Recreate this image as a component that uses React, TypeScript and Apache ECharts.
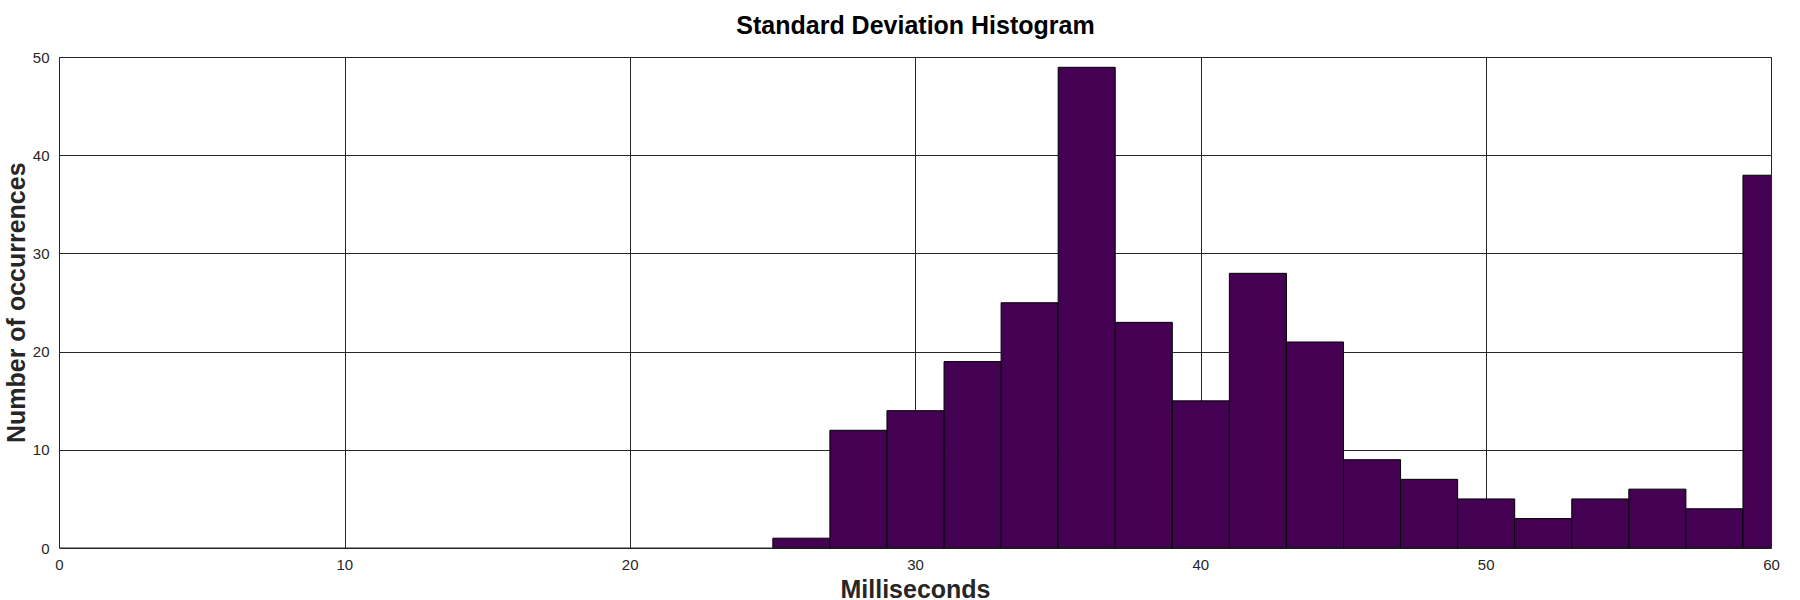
import React, { useEffect, useRef } from "react";
import * as echarts from "echarts";

const TITLE = "Standard Deviation Histogram";
const X_NAME = "Milliseconds";
const Y_NAME = "Number of occurrences";
const BIN_STARTS = [25, 27, 29, 31, 33, 35, 37, 39, 41, 43, 45, 47, 49, 51, 53, 55, 57, 59];
const BIN_WIDTH = 2;
const COUNTS = [1, 12, 14, 19, 25, 49, 23, 15, 28, 21, 9, 7, 5, 3, 5, 6, 4, 38];

const FONT = "'Liberation Sans', Arial, Helvetica, sans-serif";

export default function App() {
  const ref = useRef<HTMLDivElement>(null);
  useEffect(() => {
    if (!ref.current) return;
    const chart = echarts.init(ref.current, null, { renderer: "svg" });
    const data = BIN_STARTS.map((s, i) => [s, s + BIN_WIDTH, COUNTS[i]]);
    const gridLeft = 59.5;
    const gridRight = 28.5;
    const gridTop = 57.5;
    const gridBottom = 52;
    chart.setOption({
      animation: false,
      backgroundColor: "#ffffff",
      textStyle: { fontFamily: FONT },
      grid: {
        left: gridLeft,
        right: gridRight,
        top: gridTop,
        bottom: gridBottom,
        containLabel: false,
        outerBoundsMode: "none",
        show: true,
        borderColor: "#262626",
        borderWidth: 1,
        backgroundColor: "transparent",
        z: 10,
      },
      graphic: [
        {
          type: "text",
          x: gridLeft + (1800 - gridLeft - gridRight) / 2,
          y: 12,
          z: 100,
          style: {
            text: TITLE,
            textAlign: "center",
            textVerticalAlign: "top",
            fill: "#000000",
            font: `bold 25px ${FONT}`,
          },
        },
      ],
      xAxis: {
        type: "value",
        min: 0,
        max: 60,
        interval: 10,
        name: X_NAME,
        nameLocation: "middle",
        nameGap: 28,
        nameMoveOverlap: false,
        nameTextStyle: { fontSize: 25, lineHeight: 25, fontWeight: "bold", color: "#262626", fontFamily: FONT },
        axisLine: { show: false },
        axisTick: { show: false },
        axisLabel: { fontSize: 15, color: "#262626", margin: 9, fontFamily: FONT },
        splitLine: { show: true, lineStyle: { color: "#262626", width: 1 } },
      },
      yAxis: {
        type: "value",
        min: 0,
        max: 50,
        interval: 10,
        name: Y_NAME,
        nameLocation: "middle",
        nameGap: 31,
        nameMoveOverlap: false,
        nameTextStyle: { fontSize: 25, lineHeight: 25, fontWeight: "bold", color: "#262626", fontFamily: FONT },
        axisLine: { show: false },
        axisTick: { show: false },
        axisLabel: { fontSize: 15, color: "#262626", margin: 10, fontFamily: FONT },
        splitLine: { show: true, lineStyle: { color: "#262626", width: 1 } },
      },
      series: [
        {
          type: "custom",
          data,
          encode: { x: [0, 1], y: 2 },
          z: 5,
          renderItem: (params: any, api: any) => {
            const x0 = api.value(0);
            const x1 = api.value(1);
            const y = api.value(2);
            const p0 = api.coord([x0, y]);
            const p1 = api.coord([x1, 0]);
            const cs = params.coordSys;
            const shape = echarts.graphic.clipRectByRect(
              { x: p0[0], y: p0[1], width: p1[0] - p0[0], height: p1[1] - p0[1] },
              { x: cs.x, y: cs.y, width: cs.width, height: cs.height }
            );
            if (!shape) return null;
            return {
              type: "rect",
              shape,
              style: { fill: "#440154", stroke: "#000000", lineWidth: 1 },
            };
          },
        },
      ],
    });
    return () => chart.dispose();
  }, []);
  return (
    <div
      ref={ref}
      style={{ position: "fixed", left: 0, top: 0, width: 1800, height: 600, background: "#fff" }}
    />
  );
}
